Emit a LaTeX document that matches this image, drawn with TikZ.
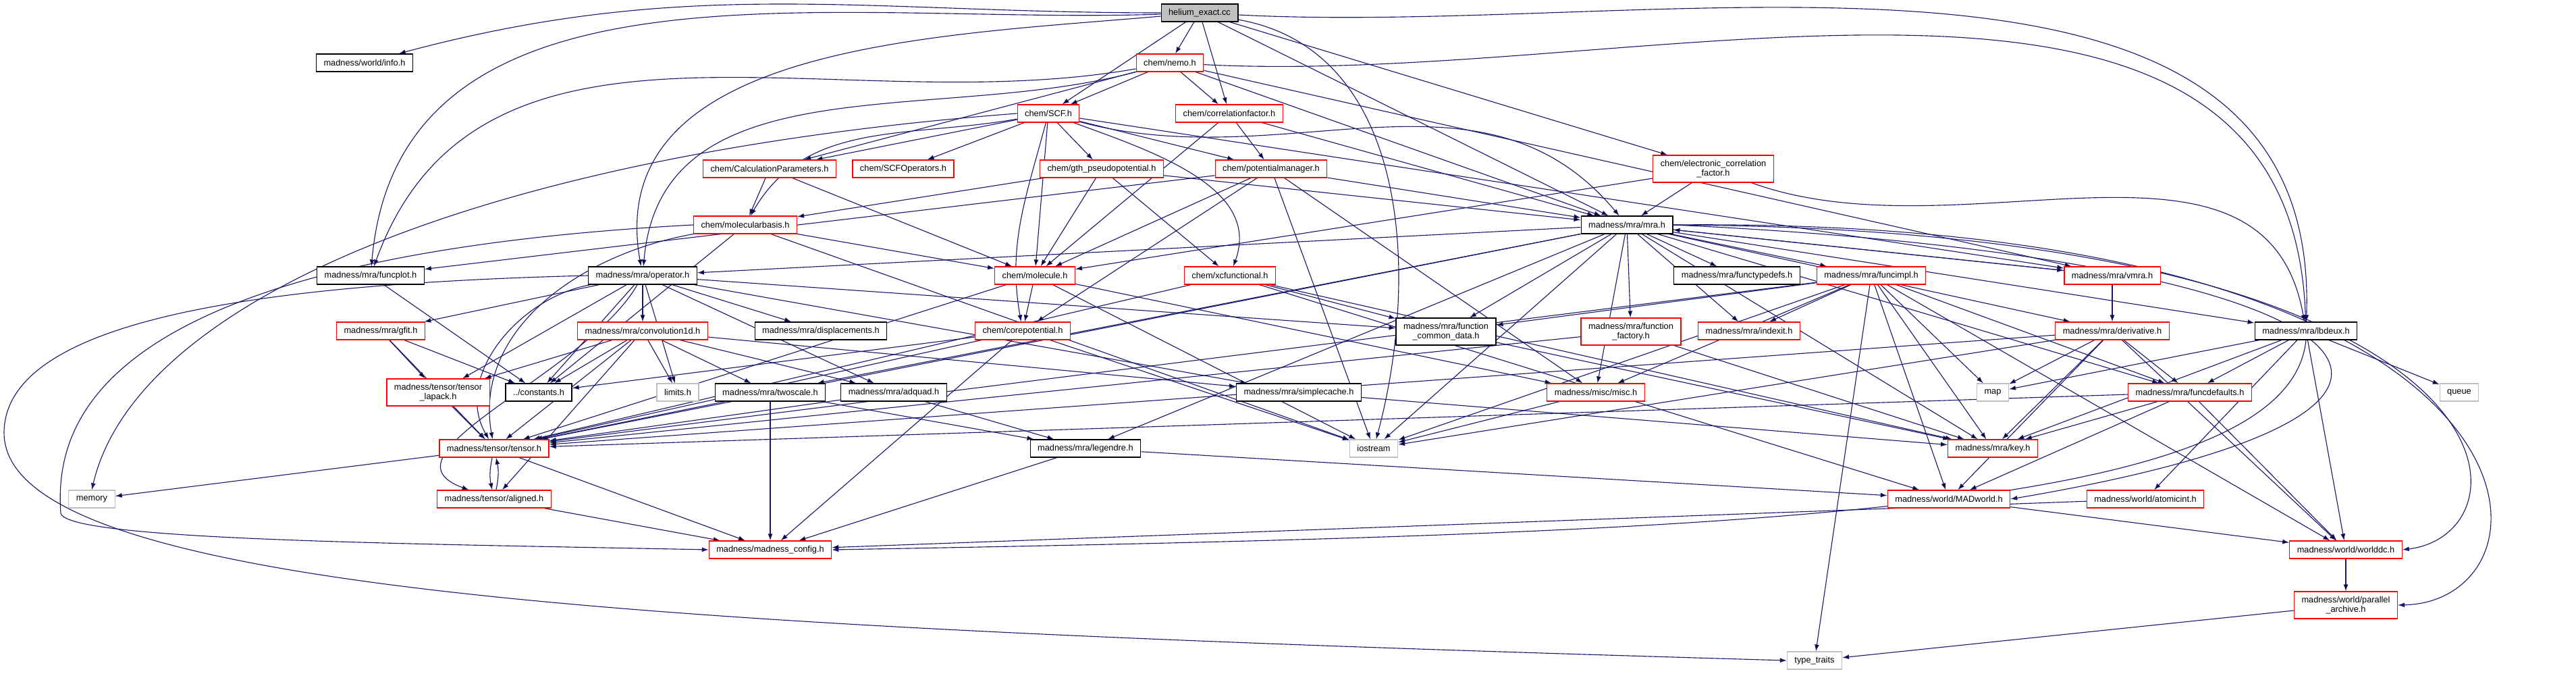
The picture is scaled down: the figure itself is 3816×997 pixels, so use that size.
\documentclass[tikz,border=0pt]{standalone}
\usepackage{fontspec}
\setmainfont{Liberation Sans}
\usepackage{tikz}
\usetikzlibrary{arrows.meta}
\definecolor{edgeblue}{RGB}{25,25,112}
\definecolor{truncred}{RGB}{255,0,0}
\definecolor{sysgray}{RGB}{191,191,191}
\pgfdeclarelayer{bg}
\pgfsetlayers{bg,main}

\begin{document}
\begin{tikzpicture}[x=0.25pt,y=-0.25pt,>={Latex[length=2.5pt,width=1.75pt]},every node/.style={font=\fontsize{3.2}{3.63}\selectfont}]
\tikzstyle{hdr}=[draw=black,line width=0.3pt,fill=white,inner xsep=2.75pt,inner ysep=0pt,minimum height=6.5pt,align=center]
\tikzstyle{trunc}=[hdr,draw=truncred]
\tikzstyle{sys}=[hdr,draw=sysgray]
\tikzstyle{root}=[hdr,fill=sysgray]
\tikzstyle{dep}=[draw=edgeblue,line width=0.28pt,->]
\useasboundingbox (0,0) rectangle (3816,997);
% headers
\node[root] (helium) at (1777,19) {helium\_exact.cc};
\node[hdr] (info) at (540,93) {madness/world/info.h};
\node[trunc] (nemo) at (1733,93) {chem/nemo.h};
\node[trunc] (scf) at (1553,168) {chem/SCF.h};
\node[trunc] (corrfac) at (1821,168) {chem/correlationfactor.h};
\node[trunc] (calcpar) at (1140,250) {chem/CalculationParameters.h};
\node[trunc] (scfops) at (1338,250) {chem/SCFOperators.h};
\node[trunc] (gthpp) at (1632,250) {chem/gth\_pseudopotential.h};
\node[trunc] (potmgr) at (1883,250) {chem/potentialmanager.h};
\node[trunc,minimum height=10pt] (ecf) at (2538,250) {chem/electronic\_correlation\\\_factor.h};
\node[trunc] (molbas) at (1104,333) {chem/molecularbasis.h};
\node[hdr] (mra) at (2410,333) {madness/mra/mra.h};
\node[hdr] (funcplot) at (549,408) {madness/mra/funcplot.h};
\node[hdr] (operator) at (952,408) {madness/mra/operator.h};
\node[trunc] (molecule) at (1533,408) {chem/molecule.h};
\node[trunc] (xcfun) at (1822,408) {chem/xcfunctional.h};
\node[hdr] (functypedefs) at (2573,408) {madness/mra/functypedefs.h};
\node[trunc] (funcimpl) at (2772,408) {madness/mra/funcimpl.h};
\node[trunc] (vmra) at (3129,408) {madness/mra/vmra.h};
\node[trunc] (gfit) at (564,490) {madness/mra/gfit.h};
\node[trunc] (conv1d) at (952,490) {madness/mra/convolution1d.h};
\node[hdr] (displ) at (1216,490) {madness/mra/displacements.h};
\node[trunc] (corepot) at (1515,490) {chem/corepotential.h};
\node[hdr,minimum height=10pt] (fcd) at (2142,491) {madness/mra/function\\\_common\_data.h};
\node[trunc,minimum height=10pt] (ffactory) at (2416,491) {madness/mra/function\\\_factory.h};
\node[trunc] (indexit) at (2591,490) {madness/mra/indexit.h};
\node[trunc] (deriv) at (3129,490) {madness/mra/derivative.h};
\node[hdr] (lbdeux) at (3416,490) {madness/mra/lbdeux.h};
\node[trunc,minimum height=10pt] (tlapack) at (649,581) {madness/tensor/tensor\\\_lapack.h};
\node[hdr] (constants) at (798,581) {../constants.h};
\node[sys] (limits) at (1004,581) {limits.h};
\node[hdr] (twoscale) at (1141,581) {madness/mra/twoscale.h};
\node[hdr] (adquad) at (1324,581) {madness/mra/adquad.h};
\node[hdr] (simplecache) at (1924,581) {madness/mra/simplecache.h};
\node[trunc] (misc) at (2364,581) {madness/misc/misc.h};
\node[sys] (map) at (2952,581) {map};
\node[trunc] (funcdef) at (3244,581) {madness/mra/funcdefaults.h};
\node[sys] (queue) at (3643,581) {queue};
\node[trunc] (tensor) at (732,664) {madness/tensor/tensor.h};
\node[hdr] (legendre) at (1608,664) {madness/mra/legendre.h};
\node[sys] (iostream) at (2035,664) {iostream};
\node[trunc] (key) at (2952,664) {madness/mra/key.h};
\node[sys] (memory) at (136,739) {memory};
\node[trunc] (aligned) at (732,739) {madness/tensor/aligned.h};
\node[trunc] (madworld) at (2887,739) {madness/world/MADworld.h};
\node[trunc] (atomicint) at (3178,739) {madness/world/atomicint.h};
\node[trunc] (madconfig) at (1141,814) {madness/madness\_config.h};
\node[trunc] (worlddc) at (3475,814) {madness/world/worlddc.h};
\node[trunc,minimum height=10pt] (parchive) at (3475,896) {madness/world/parallel\\\_archive.h};
\node[sys] (typetraits) at (2688,978) {type\_traits};
% includes
\begin{pgfonlayer}{bg}
\draw[dep] (helium) edge[out=180,in=15] (info) edge[out=182,in=85] (funcplot) edge[out=185,in=100] (operator) edge (nemo) edge (scf) edge (corrfac) edge[out=-10,in=75] (iostream) edge (mra) edge (ecf) edge[out=-3,in=88] (lbdeux);
\draw[dep] (nemo) edge (scf) edge (corrfac) edge (calcpar) edge[out=190,in=70] (funcplot) edge[out=195,in=85] (operator) edge (mra) edge (vmra) edge[out=-3,in=92] (lbdeux);
\draw[dep] (scf) edge (scfops) edge (gthpp) edge (potmgr) edge (calcpar) edge[out=190,in=60] (molbas) edge (molecule) edge[out=-105,in=100] (corepot) edge[out=-20,in=70] (xcfun) edge[out=-15,in=130] (mra) edge (vmra);
\draw[dep] (scf.west) .. controls (700,230) and (200,450) .. (memory.north);
\draw[dep] (corrfac) edge (potmgr) edge (molecule) edge (mra);
\draw[dep] (ecf) edge (mra) edge (molecule) edge[out=-20,in=100] (lbdeux);
\draw[dep] (calcpar) edge (molbas) edge (molecule);
\draw[dep] (gthpp) edge (molbas) edge (molecule) edge (xcfun) edge (mra);
\draw[dep] (potmgr) edge (mra) edge (molecule) edge (corepot) edge (iostream) edge (misc) edge (funcplot);
\draw[dep] (molbas) edge (molecule) edge[out=190,in=100] (tensor) edge (constants) edge (iostream);
\draw[dep] (molbas.west) .. controls (150,380) and (80,620) .. (90,760) .. controls (100,800) and (600,805) .. (madconfig.west);
\draw[dep] (molecule) edge (corepot) edge (tensor) edge (iostream) edge (misc);
\draw[dep] (xcfun) edge (tensor) edge (madworld) edge (key) edge (fcd);
\draw[dep] (corepot) edge (constants) edge (madconfig) edge (iostream) edge (tensor);
\draw[dep] (funcplot) edge (constants);
\draw[dep] (operator) edge (gfit) edge (conv1d) edge (displ) edge (tlapack) edge (constants) edge[out=190,in=120] (tensor) edge (limits) edge (adquad) edge (simplecache) edge (fcd) edge[out=-120,in=160] (aligned);
\draw[dep] (operator.west) .. controls (400,420) and (8,470) .. (6,640) .. controls (4,880) and (1000,930) .. (typetraits.west);
\draw[dep] (gfit) edge (tensor) edge (tlapack) edge (constants);
\draw[dep] (conv1d) edge (tlapack) edge (constants) edge (tensor) edge (aligned) edge (limits) edge (twoscale) edge (adquad) edge (simplecache);
\draw[dep] (tlapack) edge (tensor);
\draw[dep] (twoscale) edge (tensor) edge (legendre) edge (madconfig);
\draw[dep] (adquad) edge (legendre) edge (tensor);
\draw[dep] (legendre) edge (madconfig) edge (madworld);
\draw[dep] (simplecache) edge (key);
\draw[dep] (misc) edge (iostream);
\draw[dep] (tensor) edge (memory) edge[bend right=12] (aligned) edge (madconfig);
\draw[dep] (aligned) edge[bend right=12] (tensor) edge (madconfig);
\draw[dep] (mra) edge (misc) edge (tensor) edge (key) edge (twoscale) edge (legendre) edge (indexit) edge (funcdef) edge (ffactory) edge (lbdeux) edge (funcimpl) edge (deriv) edge (functypedefs) edge (vmra) edge (iostream) edge (operator) edge (fcd);
\draw[dep] (mra.east) .. controls (3500,380) and (3800,600) .. (madworld.east);
\draw[dep] (mra.east) .. controls (3760,340) and (3760,790) .. (worlddc.east);
\draw[dep] (mra.east) .. controls (3812,320) and (3812,890) .. (parchive.east);
\draw[dep] (vmra) edge (mra) edge (deriv);
\draw[dep] (funcimpl) edge (madworld) edge (misc) edge (tensor) edge (fcd) edge (indexit) edge (key) edge (funcdef) edge (iostream) edge (typetraits) edge (worlddc) edge (map);
\draw[dep] (deriv) edge (tensor) edge (map) edge (iostream) edge (key) edge (madworld) edge (funcdef) edge (worlddc);
\draw[dep] (funcdef) edge (key) edge (madworld) edge (worlddc) edge (tensor);
\draw[dep] (lbdeux) edge (map) edge (funcdef) edge (key) edge (atomicint) edge (queue) edge (worlddc);
\draw[dep] (lbdeux.south) .. controls (3390,760) and (2600,790) .. (madconfig.east);
\draw[dep] (atomicint) edge (madconfig);
\draw[dep] (madworld) edge (worlddc);
\draw[dep] (worlddc) edge (parchive);
\draw[dep] (parchive) edge (typetraits);
\draw[dep] (ffactory) edge (tensor) edge (key);
\draw[dep] (fcd) edge (key);
\end{pgfonlayer}
\end{tikzpicture}
\end{document}
